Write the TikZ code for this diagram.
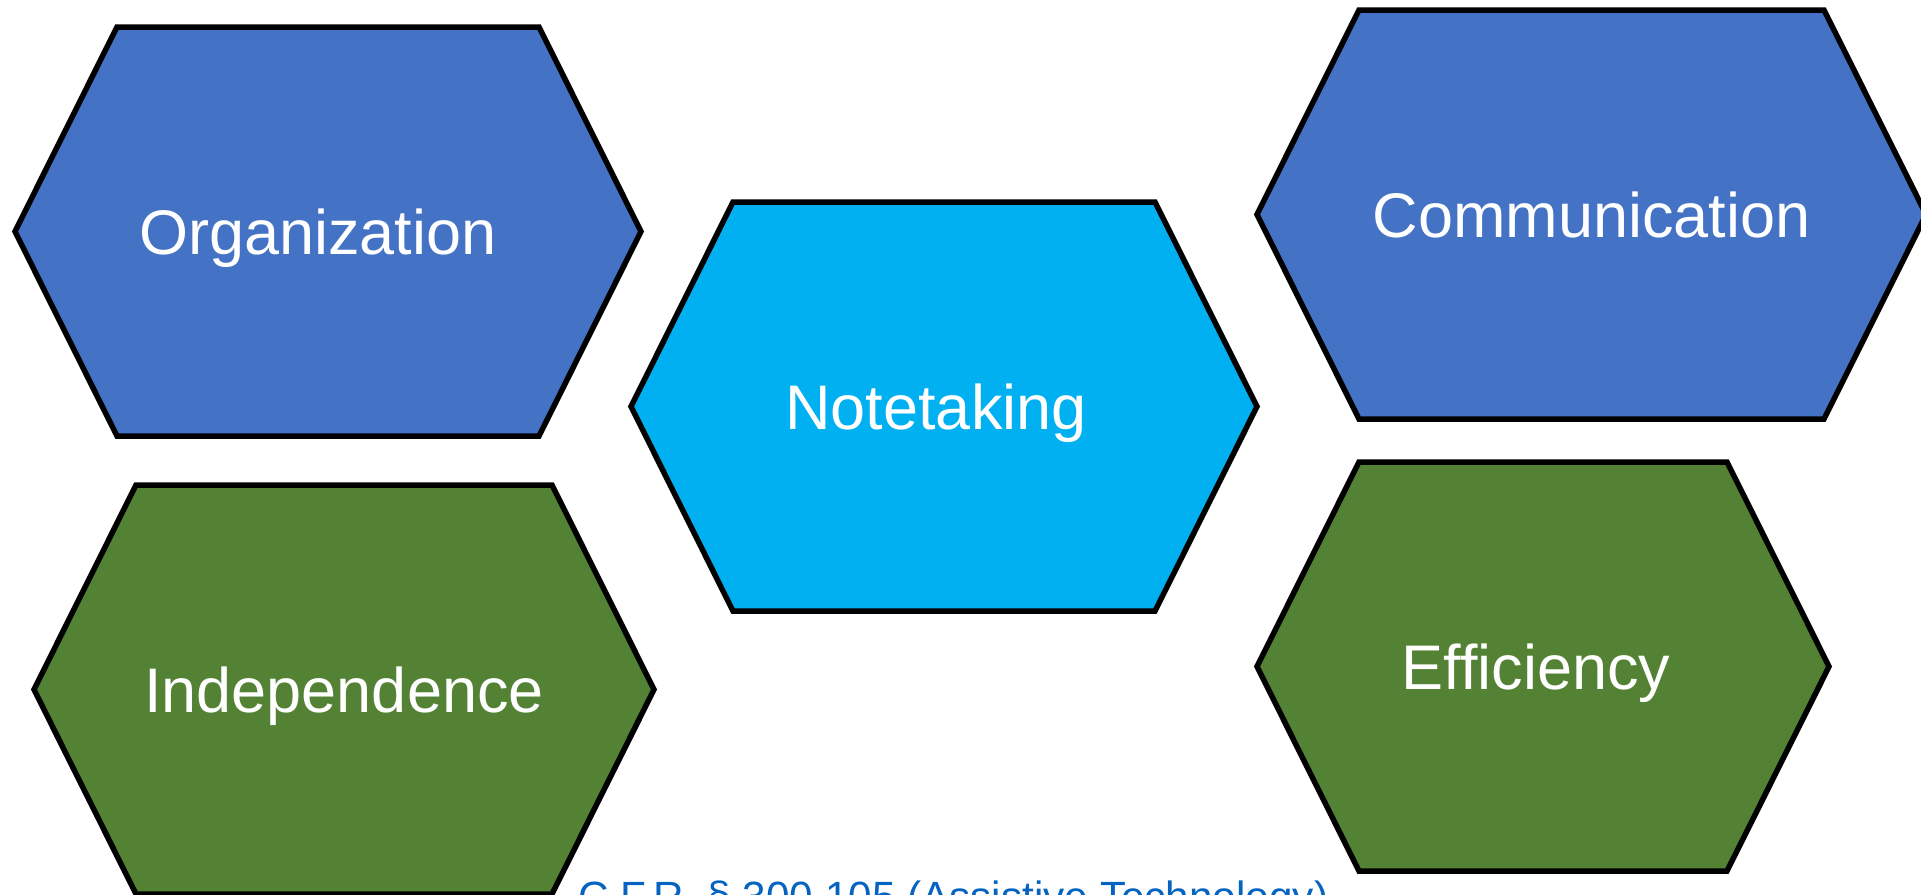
\documentclass[tikz,border=0pt]{standalone}
\usepackage{fontspec}
\setmainfont{Liberation Sans}[Ligatures=NoCommon]
\definecolor{hexblue}{HTML}{4472C4}
\definecolor{hexcyan}{HTML}{00B0F0}
\definecolor{hexgreen}{HTML}{548235}
\definecolor{linkblue}{HTML}{0563C1}
\tikzset{
	hexframe/.style = {draw=black, line width=5.5pt, line join=miter},
	hexlabel/.style = {text=white, font=\fontsize{63}{70}\selectfont, anchor=base, inner sep=0pt},
	srclabel/.style = {text=linkblue, font=\fontsize{42.3}{48}\selectfont, anchor=base west, inner sep=0pt},
}
% [#1 label shift], #2 name, #3 left tip, #4 right tip, #5 top edge, #6 fill, #7 label
\newcommand{\hexagon}[7][0]{%
	\draw[hexframe, fill=#6] (#3,#5+204.5) -- (#3+102,#5) -- (#4-102,#5) -- (#4,#5+204.5)
		-- (#4-102,#5+409) -- (#3+102,#5+409) -- cycle;
	\node[hexlabel, xshift=#1pt] (#2) at ({(#3+#4)/2},#5+227) {#7};
}

\begin{document}
\begin{tikzpicture}[x=1pt, y=-1pt]
	\useasboundingbox (0,0) rectangle (1921,894);
	\clip (0,0) rectangle (1921,894);
	% ====== Hexagons ========
	\hexagon[-10]{org}{15}{641}{27}{hexblue}{Organization}
	\hexagon[-8]{note}{631}{1257}{202}{hexcyan}{Notetaking}
	\hexagon{comm}{1257}{1926}{10}{hexblue}{Communication}
	\hexagon{indep}{34}{654}{485}{hexgreen}{Independence}
	\hexagon[-7]{eff}{1257}{1829}{462}{hexgreen}{Efficiency}
	% ====== Source ========
	\node[srclabel] (src) at (578,911) {C.F.R. § 300.105 (Assistive Technology)};
\end{tikzpicture}
\end{document}
